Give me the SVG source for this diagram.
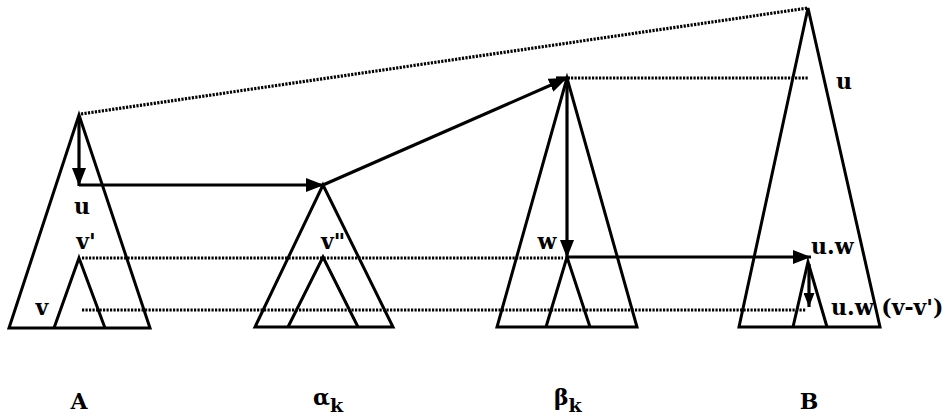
<svg xmlns="http://www.w3.org/2000/svg" width="948" height="420" viewBox="0 0 948 420">
<defs>
<style>
.tri{fill:none;stroke:#000;stroke-width:3;stroke-linejoin:miter}
.dot{fill:none;stroke:#000;stroke-width:3.2;stroke-dasharray:2.2 1.3}
.arr{fill:none;stroke:#000;stroke-width:3.2}
.lbl{font-family:"DejaVu Serif","Liberation Serif",serif;font-weight:bold;font-size:22px;fill:#000}
.name{font-family:"DejaVu Serif","Liberation Serif",serif;font-weight:bold;font-size:22px;fill:#000}
</style>
<marker id="ah" viewBox="0 0 18 14" refX="18" refY="7" markerWidth="18" markerHeight="14" markerUnits="userSpaceOnUse" orient="auto">
<path d="M0,0 L18,7 L0,14 Z" fill="#000"/>
</marker>
<marker id="ahs" viewBox="0 0 14 11" refX="14" refY="5.5" markerWidth="14" markerHeight="11" markerUnits="userSpaceOnUse" orient="auto">
<path d="M0,0 L14,5.5 L0,11 Z" fill="#000"/>
</marker>
</defs>
<rect width="948" height="420" fill="#fff"/>
<g id="treeA">
<polygon class="tri" points="79,115 9,328 150,328"/>
<polyline class="tri" points="54,328 79,258 105,328"/>
<text class="lbl" x="82" y="214" text-anchor="middle">u</text>
<text class="lbl" x="86" y="249" text-anchor="middle">v'</text>
<text class="lbl" x="42" y="315" text-anchor="middle">v</text>
<text class="name" x="79" y="409" text-anchor="middle">A</text>
</g>
<g id="treeAlpha">
<polygon class="tri" points="323,185 255,327 393,327"/>
<polyline class="tri" points="288,327 323,257 358,327"/>
<text class="lbl" x="333" y="249" text-anchor="middle">v"</text>
<text class="name" x="313" y="405">α<tspan font-size="19" dy="7">k</tspan></text>
</g>
<g id="treeBeta">
<polygon class="tri" points="567,78 497,327 637,327"/>
<polyline class="tri" points="546,327 567,257 590,327"/>
<text class="lbl" x="547" y="249" text-anchor="middle">w</text>
<text class="name" x="554" y="405">β<tspan font-size="19" dy="7">k</tspan></text>
</g>
<g id="treeB">
<polygon class="tri" points="808,8 739,327 880,327"/>
<polyline class="tri" points="793,327 808,262 827,327"/>
<text class="lbl" x="836" y="89">u</text>
<text class="lbl" x="811" y="254">u.w</text>
<text class="lbl" x="831" y="315">u.w (v-v')</text>
<text class="name" x="809" y="409" text-anchor="middle">B</text>
</g>
<g id="connectors">
<line class="dot" x1="81" y1="114" x2="808" y2="8"/>
<line class="dot" x1="571" y1="78" x2="808" y2="78"/>
<line class="dot" x1="82" y1="258" x2="563" y2="258"/>
<line class="dot" x1="82" y1="310" x2="806" y2="310"/>
<line class="arr" x1="79" y1="117" x2="79" y2="186" marker-end="url(#ah)"/>
<line class="arr" x1="79" y1="185" x2="324" y2="185" marker-end="url(#ah)"/>
<line class="arr" x1="323" y1="185" x2="567" y2="78" marker-end="url(#ah)"/>
<line class="arr" x1="556" y1="78" x2="570" y2="78"/>
<line class="arr" x1="567" y1="80" x2="567" y2="258" marker-end="url(#ah)"/>
<line class="arr" x1="567" y1="257" x2="811" y2="257" marker-end="url(#ah)"/>
<line class="arr" x1="809" y1="264" x2="809" y2="307" marker-end="url(#ahs)"/>
</g>
</svg>
